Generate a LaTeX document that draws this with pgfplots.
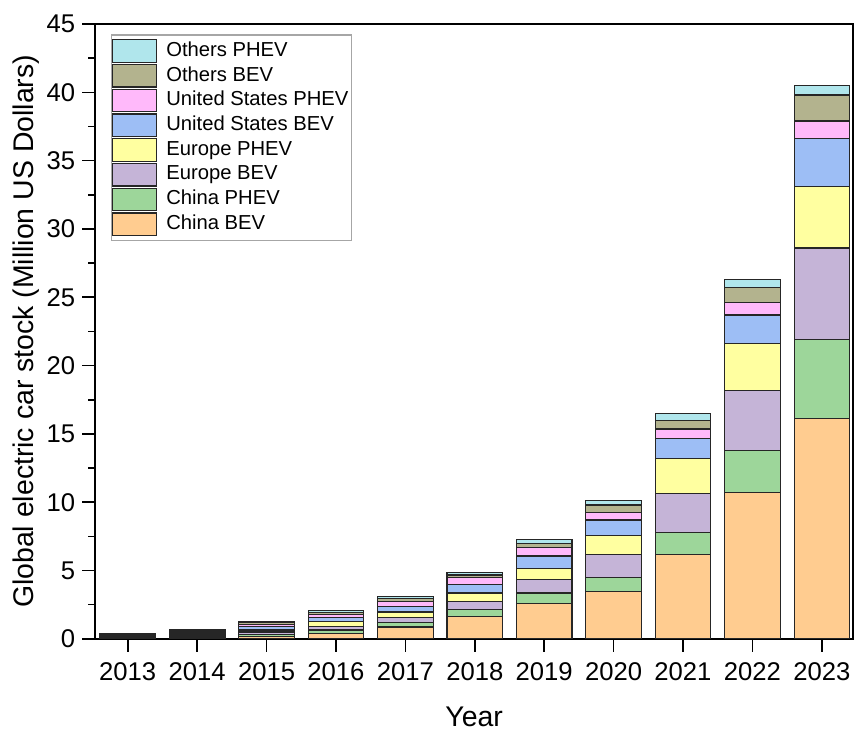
\documentclass[border=0pt]{standalone}
\usepackage{pgfplots}
\pgfplotsset{compat=1.18}
\usepackage{pgfplotstable}
\usepackage{fontspec}
\setmainfont{Liberation Sans}

\definecolor{cnbev}{HTML}{FFCC90}
\definecolor{cnphev}{HTML}{9DD69A}
\definecolor{eubev}{HTML}{C5B4D7}
\definecolor{euphev}{HTML}{FFFFA0}
\definecolor{usbev}{HTML}{9DBEF5}
\definecolor{usphev}{HTML}{FFB9FA}
\definecolor{otbev}{HTML}{B3B38E}
\definecolor{otphev}{HTML}{B0E6EC}

% Electric car stock by region and powertrain (million)
\pgfplotstableread{
year  cnbev cnphev eubev euphev usbev usphev otbev otphev
2013  0.02  0.01   0.05  0.05   0.09  0.09   0.06  0.04
2014  0.08  0.03   0.10  0.08   0.14  0.14   0.08  0.05
2015  0.20  0.10   0.20  0.15   0.25  0.15   0.12  0.10
2016  0.42  0.22   0.29  0.32   0.31  0.24   0.15  0.15
2017  0.86  0.31   0.42  0.37   0.41  0.36   0.20  0.17
2018  1.66  0.46   0.64  0.59   0.61  0.53   0.18  0.19
2019  2.56  0.79   1.02  0.78   0.91  0.63   0.29  0.32
2020  3.47  1.03   1.65  1.42   1.13  0.55   0.55  0.30
2021  6.15  1.62   2.88  2.55   1.45  0.71   0.64  0.50
2022  10.7  3.1    4.4   3.4    2.1   0.9    1.1   0.6
2023  16.1  5.8    6.7   4.5    3.5   1.3    1.9   0.7
}\stock

\begin{document}
\begin{tikzpicture}
\begin{axis}[
  scale only axis,
  width=378.5pt, height=307pt,
  ybar stacked,
  bar width=0.8,
  xmin=2012.53, xmax=2023.45,
  ymin=0, ymax=45,
  xtick={2013,2014,...,2023},
  ytick={0,5,...,45},
  minor y tick num=1,
  xtick pos=bottom, ytick pos=left,
  tick align=outside,
  major tick length=6.5pt,
  minor tick length=3.5pt,
  tick style={black, line width=0.8pt},
  axis line style={black, line width=0.8pt},
  /pgf/number format/1000 sep={},
  /pgf/number format/assume math mode=true,
  ticklabel style={font=\fontsize{12.8}{15}\selectfont},
  xticklabel shift=2pt,
  xlabel={Year},
  ylabel={Global electric car stock (Million US Dollars)},
  label style={font=\fontsize{14.2}{17}\selectfont},
  xlabel style={yshift=-6pt},
  ylabel shift=-3.5pt,
  every axis plot/.append style={draw=black!85, line width=0.6pt},
  reverse legend,
  legend cell align=left,
  legend style={
    at={(rel axis cs:0.021,0.983)}, anchor=north west,
    draw=gray!70, line width=0.6pt,
    font=\fontsize{10.1}{12}\selectfont,
    row sep=0pt,
    inner xsep=0.3pt, inner ysep=1.8pt,
    nodes={text height=7.45pt, text depth=2.2pt, inner xsep=1.2pt, inner ysep=1.35pt},
  },
  legend image code/.code={
    \draw[#1, line width=0.6pt] (0pt,-5.6pt) rectangle (22pt,5.6pt);
    \path[draw=none, fill=none] (0pt,0pt) -- (25.5pt,0pt);
  },
  extra description/.code={
    % fixed margins around the plot area
    \path (rel axis cs:0,1) ++(0pt,12pt);
    \path (rel axis cs:0,0) ++(0pt,-48.5pt);
    \path (rel axis cs:0,0) ++(-47.5pt,0pt);
  },
]
\addplot[fill=cnbev]  table[x=year, y=cnbev]  {\stock};
\addplot[fill=cnphev] table[x=year, y=cnphev] {\stock};
\addplot[fill=eubev]  table[x=year, y=eubev]  {\stock};
\addplot[fill=euphev] table[x=year, y=euphev] {\stock};
\addplot[fill=usbev]  table[x=year, y=usbev]  {\stock};
\addplot[fill=usphev] table[x=year, y=usphev] {\stock};
\addplot[fill=otbev]  table[x=year, y=otbev]  {\stock};
\addplot[fill=otphev] table[x=year, y=otphev] {\stock};
\legend{China BEV, China PHEV, Europe BEV, Europe PHEV,
        United States BEV, United States PHEV, Others BEV, Others PHEV}
\end{axis}
\end{tikzpicture}
\end{document}
